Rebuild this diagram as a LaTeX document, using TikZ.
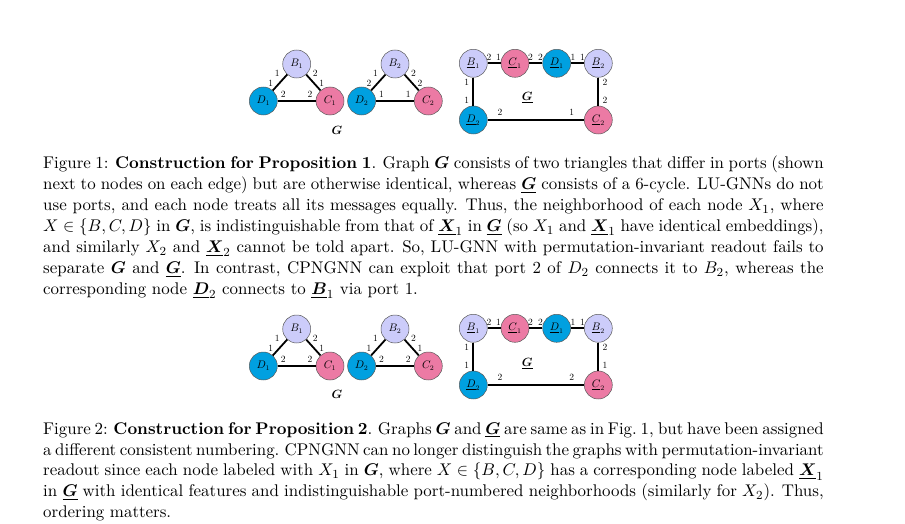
\documentclass[tikz,border=0pt]{standalone}
\usepackage{amsmath,bm,graphicx}
\usetikzlibrary{calc}
\definecolor{bcol}{RGB}{204,204,250}
\definecolor{ccol}{RGB}{236,122,164}
\definecolor{dcol}{RGB}{0,160,224}
\definecolor{rimcol}{RGB}{90,90,90}
\newcommand{\capblock}[1]{\scalebox{1.544}{\parbox[t]{505.5pt}{\fontsize{10.95}{13.6}\selectfont
  \hyphenpenalty=10000 \exhyphenpenalty=10000
  \spaceskip=3.65pt plus 1.8pt minus 1.9pt
  \xspaceskip=4.8pt plus 2.4pt minus 1.9pt #1}}}
\begin{document}
\begin{tikzpicture}[x=1pt,y=-1pt,
  gnode/.style={circle, draw=rimcol, line width=0.5pt, minimum size=28pt, inner sep=0pt, font=\fontsize{10.5}{12}\selectfont},
  bnode/.style={gnode, fill=bcol},
  cnode/.style={gnode, fill=ccol},
  dnode/.style={gnode, fill=dcol},
  gedge/.style={line width=1.8pt},
  port/.style={inner sep=0pt, font=\fontsize{9.5}{10}\selectfont},
  glabel/.style={inner sep=0pt, font=\fontsize{11.5}{12}\selectfont},
  captxt/.style={inner sep=0pt, anchor=base west}]
\useasboundingbox (0,0) rectangle (905,524);
\fill[white] (0,0) rectangle (905,524);

% ================= Figure 1 =================
% triangle 1
\node[bnode] (aB1) at (296.7,64) {$B_1$};
\node[dnode] (aD1) at (263.3,101) {$D_1$};
\node[cnode] (aC1) at (330,101) {$C_1$};
\draw[gedge] (aB1) -- (aD1);
\draw[gedge] (aB1) -- (aC1);
\draw[gedge] (aD1) -- (aC1);
\node[port] (aP1) at ($(aB1)+(-19.5,9.5)$) {1};
\node[port] (aP2) at ($(aB1)+(-26,19.5)$) {1};
\node[port] (aP3) at ($(aB1)+(18.5,9.5)$) {2};
\node[port] (aP4) at ($(aB1)+(25,19.5)$) {1};
\node[port] (aP5) at ($(aB1)+(-13.4,30.5)$) {2};
\node[port] (aP6) at ($(aB1)+(13.3,30.5)$) {2};
% triangle 2
\node[bnode] (aB2) at (395,64) {$B_2$};
\node[dnode] (aD2) at (361.6,101) {$D_2$};
\node[cnode] (aC2) at (428.3,101) {$C_2$};
\draw[gedge] (aB2) -- (aD2);
\draw[gedge] (aB2) -- (aC2);
\draw[gedge] (aD2) -- (aC2);
\node[port] (aQ1) at ($(aB2)+(-19.5,9.5)$) {1};
\node[port] (aQ2) at ($(aB2)+(-26,19.5)$) {2};
\node[port] (aQ3) at ($(aB2)+(18.5,9.5)$) {2};
\node[port] (aQ4) at ($(aB2)+(25,19.5)$) {2};
\node[port] (aQ5) at ($(aB2)+(-13.4,30.5)$) {1};
\node[port] (aQ6) at ($(aB2)+(13.3,30.5)$) {1};
\node[glabel] (aG) at (337,130.5) {$\bm{G}$};
% 6-cycle
\node[bnode] (auB1) at (473.3,63.3) {$\underline{B}_1$};
\node[cnode] (auC1) at (515,63.3) {$\underline{C}_1$};
\node[dnode] (auD1) at (556.7,63.3) {$\underline{D}_1$};
\node[bnode] (auB2) at (598.3,63.3) {$\underline{B}_2$};
\node[dnode] (auD2) at (473.3,120) {$\underline{D}_2$};
\node[cnode] (auC2) at (598.3,120) {$\underline{C}_2$};
\draw[gedge] (auB1) -- (auC1);
\draw[gedge] (auC1) -- (auD1);
\draw[gedge] (auD1) -- (auB2);
\draw[gedge] (auB2) -- (auC2);
\draw[gedge] (auC2) -- (auD2);
\draw[gedge] (auD2) -- (auB1);
\node[port] (aR1) at (489,57) {2};
\node[port] (aR2) at (498.5,57) {1};
\node[port] (aR3) at (530.5,57) {2};
\node[port] (aR4) at (540.5,57) {2};
\node[port] (aR5) at (573,57) {1};
\node[port] (aR6) at (582.5,57) {1};
\node[port] (aR7) at (466.7,82) {1};
\node[port] (aR8) at (466.7,100) {1};
\node[port] (aR9) at (605,82) {2};
\node[port] (aR10) at (605,100) {2};
\node[port] (aR11) at (500,112) {2};
\node[port] (aR12) at (571.7,112) {1};
\node[glabel] (auG) at (527.3,97.3) {$\underline{\bm{G}}$};

\node[captxt] (cap1) at (43,168.5) {\capblock{%
Figure 1: \textbf{Construction for Proposition 1}. Graph $\bm{G}$ consists of two triangles that differ in ports (shown\linebreak
next to nodes on each edge) but are otherwise identical, whereas $\underline{\bm{G}}$ consists of a 6-cycle. LU-GNNs do not\linebreak
use ports, and each node treats all its messages equally. Thus, the neighborhood of each node $X_1$, where\linebreak
$X \in \{B,C,D\}$ in $\bm{G}$, is indistinguishable from that of $\underline{\bm{X}}_1$ in $\underline{\bm{G}}$ (so $X_1$ and $\underline{\bm{X}}_1$ have identical embeddings),\linebreak
and similarly $X_2$ and $\underline{\bm{X}}_2$ cannot be told apart. So, LU-GNN with permutation-invariant readout fails to\linebreak
separate $\bm{G}$ and $\underline{\bm{G}}$. In contrast, CPNGNN can exploit that port 2 of $D_2$ connects it to $B_2$, whereas the\linebreak
corresponding node $\underline{\bm{D}}_2$ connects to $\underline{\bm{B}}_1$ via port 1.}};

% ================= Figure 2 =================
\node[bnode] (bB1) at (296.7,329) {$B_1$};
\node[dnode] (bD1) at (263.3,366) {$D_1$};
\node[cnode] (bC1) at (330,366) {$C_1$};
\draw[gedge] (bB1) -- (bD1);
\draw[gedge] (bB1) -- (bC1);
\draw[gedge] (bD1) -- (bC1);
\node[port] (bP1) at ($(bB1)+(-19.5,9.5)$) {1};
\node[port] (bP2) at ($(bB1)+(-26,19.5)$) {1};
\node[port] (bP3) at ($(bB1)+(18.5,9.5)$) {2};
\node[port] (bP4) at ($(bB1)+(25,19.5)$) {1};
\node[port] (bP5) at ($(bB1)+(-13.4,30.5)$) {2};
\node[port] (bP6) at ($(bB1)+(13.3,30.5)$) {2};
\node[bnode] (bB2) at (395,329) {$B_2$};
\node[dnode] (bD2) at (361.6,366) {$D_2$};
\node[cnode] (bC2) at (428.3,366) {$C_2$};
\draw[gedge] (bB2) -- (bD2);
\draw[gedge] (bB2) -- (bC2);
\draw[gedge] (bD2) -- (bC2);
\node[port] (bQ1) at ($(bB2)+(-19.5,9.5)$) {1};
\node[port] (bQ2) at ($(bB2)+(-26,19.5)$) {1};
\node[port] (bQ3) at ($(bB2)+(18.5,9.5)$) {2};
\node[port] (bQ4) at ($(bB2)+(25,19.5)$) {1};
\node[port] (bQ5) at ($(bB2)+(-13.4,30.5)$) {2};
\node[port] (bQ6) at ($(bB2)+(13.3,30.5)$) {2};
\node[glabel] (bG) at (337,394.5) {$\bm{G}$};
\node[bnode] (buB1) at (473.3,328.3) {$\underline{B}_1$};
\node[cnode] (buC1) at (515,328.3) {$\underline{C}_1$};
\node[dnode] (buD1) at (556.7,328.3) {$\underline{D}_1$};
\node[bnode] (buB2) at (598.3,328.3) {$\underline{B}_2$};
\node[dnode] (buD2) at (473.3,385) {$\underline{D}_2$};
\node[cnode] (buC2) at (598.3,385) {$\underline{C}_2$};
\draw[gedge] (buB1) -- (buC1);
\draw[gedge] (buC1) -- (buD1);
\draw[gedge] (buD1) -- (buB2);
\draw[gedge] (buB2) -- (buC2);
\draw[gedge] (buC2) -- (buD2);
\draw[gedge] (buD2) -- (buB1);
\node[port] (bR1) at (489,322) {2};
\node[port] (bR2) at (498.5,322) {1};
\node[port] (bR3) at (530.5,322) {2};
\node[port] (bR4) at (540.5,322) {2};
\node[port] (bR5) at (573,322) {1};
\node[port] (bR6) at (582.5,322) {1};
\node[port] (bR7) at (466.7,347) {1};
\node[port] (bR8) at (466.7,365) {1};
\node[port] (bR9) at (605,347) {2};
\node[port] (bR10) at (605,365) {1};
\node[port] (bR11) at (500,377) {2};
\node[port] (bR12) at (571.7,377) {2};
\node[glabel] (buG) at (527.3,363.5) {$\underline{\bm{G}}$};

\node[captxt] (cap2) at (43,434) {\capblock{%
Figure 2: \textbf{Construction for Proposition 2}. Graphs $\bm{G}$ and $\underline{\bm{G}}$ are same as in Fig.~1, but have been assigned\linebreak
a different consistent numbering. CPNGNN can no longer distinguish the graphs with permutation-invariant\linebreak
readout since each node labeled with $X_1$ in $\bm{G}$, where $X \in \{B,C,D\}$ has a corresponding node labeled $\underline{\bm{X}}_1$\linebreak
in $\underline{\bm{G}}$ with identical features and indistinguishable port-numbered neighborhoods (similarly for $X_2$). Thus,\linebreak
ordering matters.}};
\end{tikzpicture}
\end{document}
